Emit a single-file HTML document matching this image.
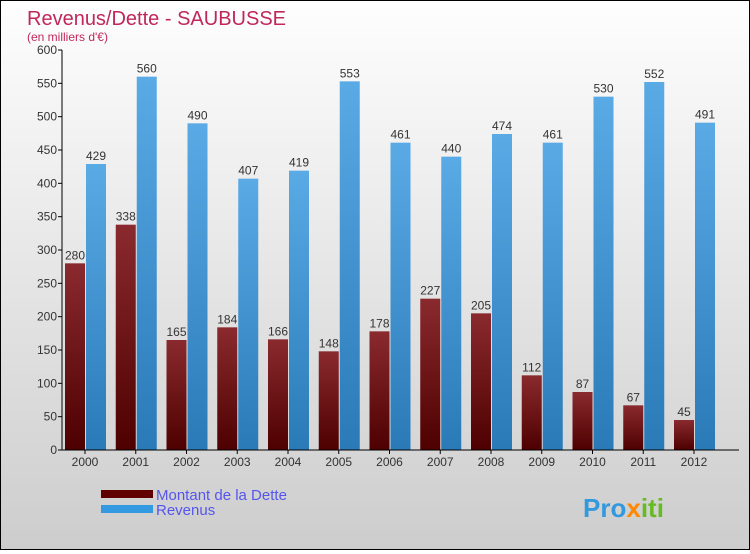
<!DOCTYPE html>
<html><head><meta charset="utf-8"><style>
body{margin:0;width:750px;height:550px;overflow:hidden;font-family:"Liberation Sans",sans-serif}
#c{position:absolute;left:0;top:0;width:748px;height:548px;border:1px solid #000;background:linear-gradient(#fefefe,#cdcdcd)}
</style></head><body>
<div id="c">
<svg width="748" height="548" id="svg">
<defs>
<linearGradient id="gd" x1="0" y1="0" x2="0" y2="1"><stop offset="0" stop-color="#8a2a2e"/><stop offset="1" stop-color="#4e0000"/></linearGradient>
<linearGradient id="gr" x1="0" y1="0" x2="0" y2="1"><stop offset="0" stop-color="#5aaae6"/><stop offset="1" stop-color="#2a7ab8"/></linearGradient>
</defs>
<text x="26" y="24" font-size="20" fill="#c0275a">Revenus/Dette - SAUBUSSE</text>
<text x="26" y="40" font-size="12" fill="#c0275a">(en milliers d'€)</text>
<g id="plot"></g>
<rect x="100" y="489" width="52" height="8" fill="#600000"/>
<text x="155" y="499" font-size="15" fill="#5555ee">Montant de la Dette</text>
<rect x="100" y="504" width="52" height="8" fill="#3399e0"/>
<text x="155" y="514" font-size="15" fill="#5555ee">Revenus</text>
<text x="582" y="516" font-size="26" font-weight="bold" fill="#3399dd">Pro<tspan fill="#ff8800">x</tspan><tspan fill="#66bb22">iti</tspan></text>
</svg></div>
<script>
const years=["2000","2001","2002","2003","2004","2005","2006","2007","2008","2009","2010","2011","2012"];
const dette=[280,338,165,184,166,148,178,227,205,112,87,67,45];
const revenus=[429,560,490,407,419,553,461,440,474,461,530,552,491];
const ticks=[0,50,100,150,200,250,300,350,400,450,500,550,600];
const NS="http://www.w3.org/2000/svg";
const g=document.getElementById('plot');
const y=v=>449-v*400/600;
const x=i=>84+i*50.75;
function mk(t,a,txt){const e=document.createElementNS(NS,t);for(const k in a)e.setAttribute(k,a[k]);if(txt!=null)e.textContent=txt;g.appendChild(e);return e;}
ticks.forEach(t=>{
const l=mk('line',{x1:57,x2:61,y1:y(t),y2:y(t),stroke:'#000'});


const tx=mk('text',{x:56,y:y(t)+4,'font-size':12,fill:'#333','text-anchor':'end'},t);


});
years.forEach((yr,i)=>{
const cx=x(i);
const b1=mk('rect',{x:cx-20,y:y(dette[i]),width:20,height:y(0)-y(dette[i]),fill:'url(#gd)'});


const b2=mk('rect',{x:cx+1,y:y(revenus[i]),width:20,height:y(0)-y(revenus[i]),fill:'url(#gr)'});


const l1=mk('text',{x:cx-10,y:y(dette[i])-4,'font-size':12,fill:'#333','text-anchor':'middle'},dette[i]);


const l2=mk('text',{x:cx+11,y:y(revenus[i])-4,'font-size':12,fill:'#333','text-anchor':'middle'},revenus[i]);


const tk=mk('line',{x1:cx,x2:cx,y1:449,y2:453,stroke:'#000'});


const xl=mk('text',{x:cx,y:465,'font-size':12,fill:'#333','text-anchor':'middle'},yr);


});
const ax=mk('line',{x1:61,x2:61,y1:y(600),y2:449,stroke:'#000'});


const bx=mk('line',{x1:61,x2:738,y1:449,y2:449,stroke:'#000'});


</script>
</body></html>
